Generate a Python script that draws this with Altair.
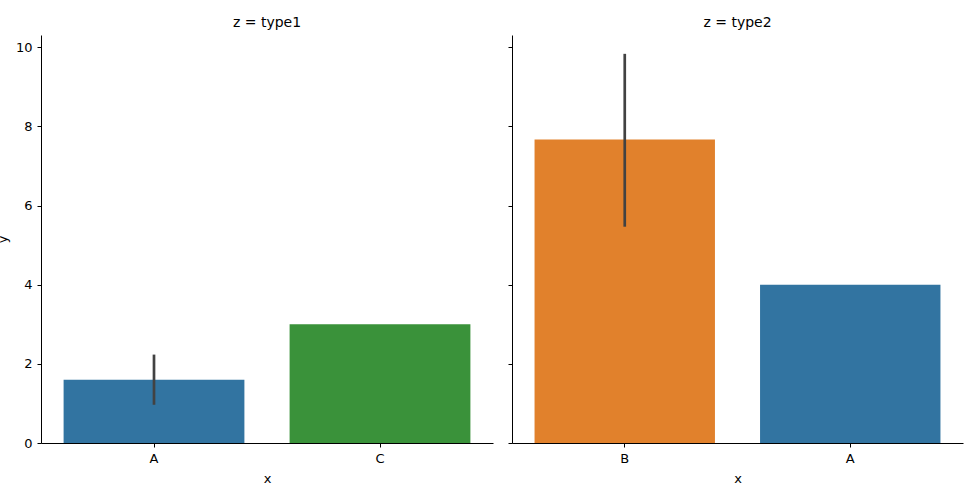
import altair as alt
import pandas as pd

# ---- data ----
panels = ["type1", "type1", "type2", "type2"]
cats = ["A", "C", "B", "A"]
means = [1.6, 3.0, 7.67, 4.0]
ci_low = [1.0, None, 5.5, None]
ci_high = [2.2, None, 9.8, None]
cat_colors = {"A": "#3274a1", "B": "#e1812c", "C": "#3a923a"}
y_ticks = [0, 2, 4, 6, 8, 10]

df = pd.DataFrame({"z": panels, "x": cats, "y": means, "lo": ci_low, "hi": ci_high})

FONT = "DejaVu Sans"
H = 408
W_LEFT = 452
W_RIGHT = 451
LBL = 13

color_scale = alt.Scale(domain=list(cat_colors.keys()), range=list(cat_colors.values()))
y_scale = alt.Scale(domain=[0, 10.31], nice=False, zero=True)


def panel(zval, width, show_labels):
    sub = df[df["z"] == zval].reset_index(drop=True)
    order = list(sub["x"])
    xenc = alt.X(
        "x:N",
        sort=order,
        scale=alt.Scale(paddingInner=0.2, paddingOuter=0.1),
        axis=alt.Axis(
            title="x", labelAngle=0, tickSize=4, labelPadding=5, titlePadding=7,
            domainColor="black", tickColor="black", labelColor="black", titleColor="black",
            labelFontSize=LBL, titleFontSize=LBL, labelFont=FONT, titleFont=FONT,
            titleFontWeight="normal", grid=False,
        ),
    )
    if show_labels:
        yaxis = alt.Axis(
            title="y", values=y_ticks, tickSize=4, labelPadding=5, grid=False,
            domainColor="black", tickColor="black", labelColor="black", titleColor="black",
            labelFontSize=LBL, titleFontSize=LBL, labelFont=FONT, titleFont=FONT,
            titleFontWeight="normal", titleAngle=270, titleAlign="center",
            titleBaseline="middle", titleX=-39, titleY=H / 2,
        )
    else:
        yaxis = alt.Axis(
            title=None, values=y_ticks, tickSize=4, labels=False, grid=False,
            domainColor="black", tickColor="black",
        )
    base = alt.Chart(sub)
    bars = base.mark_bar().encode(
        x=xenc,
        y=alt.Y("y:Q", scale=y_scale, axis=yaxis),
        color=alt.Color("x:N", scale=color_scale, legend=None),
    )
    err = base.mark_rule(color="#424242", strokeWidth=2.7, strokeCap="square").encode(
        x=alt.X("x:N", sort=order),
        y=alt.Y("lo:Q", scale=y_scale),
        y2="hi:Q",
    )
    return alt.layer(bars, err).properties(
        width=width,
        height=H,
        title=alt.TitleParams(
            text=f"z = {zval}", fontSize=14, font=FONT, fontWeight="normal",
            color="black", anchor="middle", offset=5,
        ),
    )


chart = alt.hconcat(
    panel("type1", W_LEFT, True),
    panel("type2", W_RIGHT, False),
    spacing=19,
    bounds="flush",
).properties(
    autosize=alt.AutoSizeParams(type="pad"),
    padding={"left": -4, "top": 16, "right": 1, "bottom": 10},
    background="white",
).configure_view(stroke=None)

chart.save("out.html", embed_options={"renderer": "svg", "actions": False})
